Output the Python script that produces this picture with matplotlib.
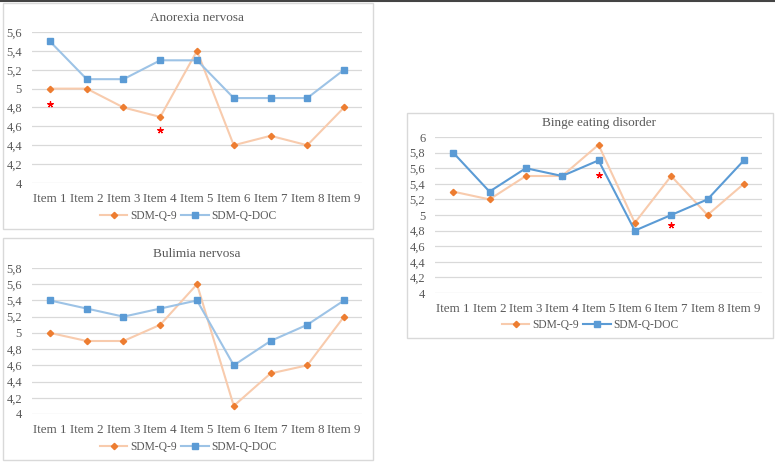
import matplotlib
matplotlib.use("Agg")
import matplotlib.pyplot as plt
from matplotlib.patches import Rectangle
from matplotlib.lines import Line2D
from matplotlib.ticker import FuncFormatter

plt.rcParams['font.family'] = ['Liberation Serif', 'DejaVu Serif']

items = ['Item 1', 'Item 2', 'Item 3', 'Item 4', 'Item 5', 'Item 6', 'Item 7', 'Item 8', 'Item 9']

# Anorexia nervosa
an_q9 = [5.0, 5.0, 4.8, 4.7, 5.4, 4.4, 4.5, 4.4, 4.8]
an_doc = [5.5, 5.1, 5.1, 5.3, 5.3, 4.9, 4.9, 4.9, 5.2]
an_star_x = [1, 4]
an_star_y = [4.84, 4.56]

# Bulimia nervosa
bn_q9 = [5.0, 4.9, 4.9, 5.1, 5.6, 4.1, 4.5, 4.6, 5.2]
bn_doc = [5.4, 5.3, 5.2, 5.3, 5.4, 4.6, 4.9, 5.1, 5.4]

# Binge eating disorder
bed_q9 = [5.3, 5.2, 5.5, 5.5, 5.9, 4.9, 5.5, 5.0, 5.4]
bed_doc = [5.8, 5.3, 5.6, 5.5, 5.7, 4.8, 5.0, 5.2, 5.7]
bed_star_x = [5, 7]
bed_star_y = [5.51, 4.87]

W, H = 775, 462
fig = plt.figure(figsize=(W / 100, H / 100), dpi=100)

txt = '#595959'
grid = '#D9D9D9'
q9_line = '#F8CBAD'
q9_mark = '#ED7D31'
doc_light = '#9DC3E6'
doc_mark = '#5B9BD5'


def px_rect(x0, y0, x1, y1):
    # pixel box (top-left origin) -> figure fraction [l, b, w, h]
    return [x0 / W, 1 - y1 / H, (x1 - x0) / W, (y1 - y0) / H]


def comma(v, pos):
    s = ('%.1f' % v).rstrip('0').rstrip('.')
    return s.replace('.', ',')


def panel(box, plot_box, title, q9, doc, ymax, doc_line, stars=None):
    bx0, by0, bx1, by1 = box
    fig.patches.append(Rectangle((bx0 / W, 1 - by1 / H), (bx1 - bx0) / W, (by1 - by0) / H,
                                 transform=fig.transFigure, fill=False,
                                 edgecolor=grid, linewidth=1.0))
    ax = fig.add_axes(px_rect(*plot_box))
    x = list(range(1, len(items) + 1))
    ax.plot(x, q9, color=q9_line, linewidth=1.5, marker='D', markersize=3.2,
            markerfacecolor=q9_mark, markeredgecolor=q9_mark, zorder=3)
    ax.plot(x, doc, color=doc_line, linewidth=1.5, marker='s', markersize=4.8,
            markerfacecolor=doc_mark, markeredgecolor=doc_mark, zorder=3)
    if stars:
        ax.plot(stars[0], stars[1], linestyle='none', marker=(5, 2, 0), markersize=4.5,
                color='#FF0000', markeredgewidth=0.9, zorder=4)
    ax.set_xlim(0.5, len(items) + 0.5)
    ax.set_ylim(4, ymax)
    ax.set_yticks([round(4 + 0.2 * i, 1) for i in range(int(round((ymax - 4) / 0.2)) + 1)])
    ax.yaxis.set_major_formatter(FuncFormatter(comma))
    ax.set_xticks(x)
    ax.set_xticklabels(items)
    for s in ax.spines.values():
        s.set_visible(False)
    ax.grid(axis='y', color=grid, linewidth=0.9)
    ax.set_axisbelow(True)
    ax.tick_params(axis='x', length=0, labelsize=9.4, colors=txt, pad=7)
    ax.tick_params(axis='y', length=0, labelsize=9, colors=txt, pad=7)
    ax.set_title(title, fontsize=9.5, color=txt, pad=8)
    handles = [Line2D([0], [0], color=q9_line, linewidth=1.5, marker='D', markersize=3.2,
                      markerfacecolor=q9_mark, markeredgecolor=q9_mark),
               Line2D([0], [0], color=doc_line, linewidth=1.5, marker='s', markersize=4.8,
                      markerfacecolor=doc_mark, markeredgecolor=doc_mark)]
    leg_y = by1 - (by1 - by0) * 0.058
    fig.legend(handles, ['SDM-Q-9', 'SDM-Q-DOC'], loc='center',
               bbox_to_anchor=((bx0 + bx1) / 2 / W, 1 - leg_y / H), ncol=2,
               frameon=False, fontsize=8.3, handlelength=2.4, handletextpad=0.2,
               columnspacing=0.4, labelcolor=txt)
    return ax


panel((3, 3, 373, 229), (31.6, 32, 362.4, 183), 'Anorexia nervosa',
      an_q9, an_doc, 5.6, doc_light, (an_star_x, an_star_y))
panel((3, 238, 373, 460), (31.6, 268, 362.4, 414), 'Bulimia nervosa',
      bn_q9, bn_doc, 5.8, doc_light)
panel((407, 113, 773, 338), (435, 137, 762, 293), 'Binge eating disorder',
      bed_q9, bed_doc, 6.0, doc_mark, (bed_star_x, bed_star_y))

# thin dark rule across the top edge
fig.add_artist(Line2D([0, 1], [1 - 0.8 / H, 1 - 0.8 / H], transform=fig.transFigure,
                      color='#444444', linewidth=1.5))

fig.savefig('out.png', dpi=100)
